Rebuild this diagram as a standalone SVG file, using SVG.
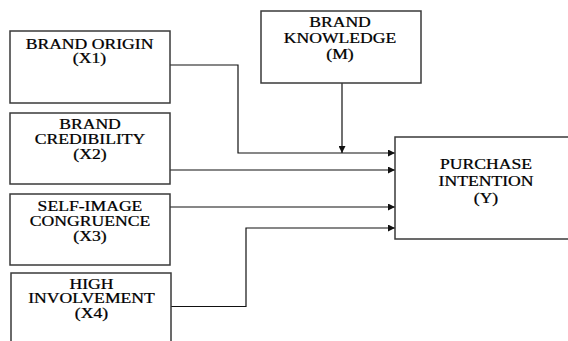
<svg xmlns="http://www.w3.org/2000/svg" width="568" height="341" viewBox="0 0 568 341">
<style>
.box{fill:#fff;stroke:#3a3a3a;stroke-width:1.5}
.lbl{font-family:"Liberation Serif","Times New Roman",serif;font-size:14px;fill:#000;stroke:#000;stroke-width:0.25;text-anchor:middle}
.ln{fill:none;stroke:#111;stroke-width:1.2}
</style>
<defs>
<marker id="ah" viewBox="0 0 10 10" refX="10" refY="5" markerWidth="8" markerHeight="7" markerUnits="userSpaceOnUse" orient="auto">
<path d="M0,0 L10,5 L0,10 z" fill="#111"/>
</marker>
</defs>
<rect width="568" height="341" fill="#fff"/>
<g id="connectors">
<path class="ln" d="M170,65 H238 V153 H395" marker-end="url(#ah)"/>
<path class="ln" d="M342,83 V153" marker-end="url(#ah)"/>
<path class="ln" d="M170,170 H395" marker-end="url(#ah)"/>
<path class="ln" d="M170,207 H395" marker-end="url(#ah)"/>
<path class="ln" d="M171,306.5 H246 V228 H395" marker-end="url(#ah)"/>
</g>
<g id="x1">
<rect class="box" x="10" y="31" width="160" height="72"/>
<text class="lbl" transform="matrix(1.26 0 0 1 89.5 0)"><tspan x="0" y="49">BRAND ORIGIN</tspan><tspan x="0" y="63.5">(X1)</tspan></text>
</g>
<g id="x2">
<rect class="box" x="10" y="113" width="160" height="71"/>
<text class="lbl" transform="matrix(1.26 0 0 1 90 0)"><tspan x="0" y="129.5">BRAND</tspan><tspan x="0" y="144.5">CREDIBILITY</tspan><tspan x="0" y="159.5">(X2)</tspan></text>
</g>
<g id="x3">
<rect class="box" x="10" y="194" width="160" height="71"/>
<text class="lbl" transform="matrix(1.26 0 0 1 90 0)"><tspan x="0" y="211">SELF-IMAGE</tspan><tspan x="0" y="226">CONGRUENCE</tspan><tspan x="0" y="241.5">(X3)</tspan></text>
</g>
<g id="x4">
<rect class="box" x="11" y="273" width="160" height="80"/>
<text class="lbl" transform="matrix(1.26 0 0 1 91.5 0)"><tspan x="0" y="289.5">HIGH</tspan><tspan x="0" y="303.5">INVOLVEMENT</tspan><tspan x="0" y="318">(X4)</tspan></text>
</g>
<g id="m">
<rect class="box" x="261" y="11" width="160" height="72"/>
<text class="lbl" transform="matrix(1.26 0 0 1 340 0)"><tspan x="0" y="27.5">BRAND</tspan><tspan x="0" y="43.5">KNOWLEDGE</tspan><tspan x="0" y="59">(M)</tspan></text>
</g>
<g id="y">
<rect class="box" x="395" y="137" width="180" height="102"/>
<text class="lbl" transform="matrix(1.26 0 0 1 486 0)"><tspan x="0" y="169.5">PURCHASE</tspan><tspan x="0" y="186.5">INTENTION</tspan><tspan x="0" y="203">(Y)</tspan></text>
</g>
</svg>
